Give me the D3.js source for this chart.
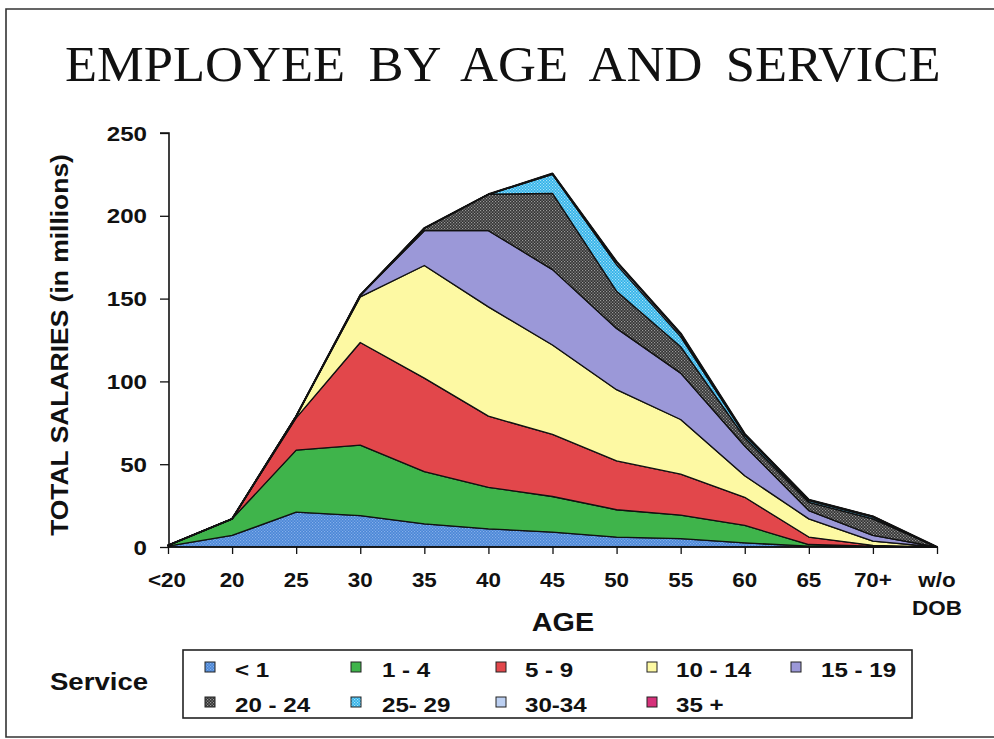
<!DOCTYPE html>
<html>
<head>
<meta charset="utf-8">
<script src="https://cdn.jsdelivr.net/npm/d3@7/dist/d3.min.js"></script>
<style>
  html, body { margin: 0; padding: 0; background: #ffffff; }
  svg { display: block; }
</style>
</head>
<body>
<svg id="chart" width="994" height="739"></svg>
<script>
// ---------------- DATA ----------------
const ages = ["<20", "20", "25", "30", "35", "40", "45", "50", "55", "60", "65", "70+", "w/o DOB"];
const services = ["< 1", "1 - 4", "5 - 9", "10 - 14", "15 - 19", "20 - 24", "25- 29", "30-34", "35 +"];
const svcLt1   = [0.5, 7, 21, 19, 14, 11, 9, 6, 5, 2.5, 0.5, 0, 0];
const svc1to4  = [0.5, 10, 37.5, 42.5, 31.5, 25, 21.5, 16.5, 14.3, 10.5, 1, 0.5, 0];
const svc5to9  = [0, 0, 19.5, 62, 56.5, 43, 37.5, 29.5, 24.7, 17, 4.5, 0.5, 0];
const svc10to14 = [0, 0, 1, 27.5, 68, 66, 54, 43, 33, 13, 11, 2.5, 0];
const svc15to19 = [0, 0, 0, 1, 21, 46, 45.5, 37, 28, 18, 5, 3.5, 0];
const svc20to24 = [0, 0, 0, 0, 1.5, 22, 46, 22.5, 16, 5, 5, 10, 0];
const svc25to29 = [0, 0, 0, 0, 0, 0, 11.5, 16, 6, 1.5, 1, 1, 0];
const svc30to34 = [0, 0, 0, 0, 0, 0, 0.5, 1.5, 1.5, 0.5, 0.5, 0.5, 0];
const svc35plus = [0, 0, 0, 0, 0, 0, 0, 0.3, 0.5, 0.3, 0, 0, 0];
const yTicks = [0, 50, 100, 150, 200, 250];
const title = "EMPLOYEE BY AGE AND SERVICE";
const yTitle = "TOTAL SALARIES (in millions)";
const xTitle = "AGE";
const legendTitle = "Service";

const seriesValues = [svcLt1, svc1to4, svc5to9, svc10to14, svc15to19, svc20to24, svc25to29, svc30to34, svc35plus];

// ---------------- STYLE ----------------
const fills = ["url(#patBlue)", "#3fb44b", "#e2474b", "#fdf9a3", "#9b98d8", "url(#patGray)", "url(#patCyan)", "#bcd0f2", "#d6317a"];
const SX = 1.15; // horizontal stretch of the scanned lettering
const sans = "'Liberation Sans', Arial, sans-serif";

const svg = d3.select("#chart");
const defs = svg.append("defs");
function dotPattern(id, bg, dot) {
  const p = defs.append("pattern").attr("id", id).attr("width", 3).attr("height", 3)
    .attr("patternUnits", "userSpaceOnUse");
  p.append("rect").attr("width", 3).attr("height", 3).attr("fill", bg);
  p.append("rect").attr("x", 0).attr("y", 0).attr("width", 1.2).attr("height", 1.2).attr("fill", dot);
  p.append("rect").attr("x", 1.5).attr("y", 1.5).attr("width", 1.2).attr("height", 1.2).attr("fill", dot);
}
dotPattern("patBlue", "#4a86d6", "#86b0ea");
dotPattern("patGray", "#333333", "#999999");
dotPattern("patCyan", "#2fb2e8", "#a9e2fa");

function txt(x, y, s, size, opts = {}) {
  const t = svg.append("text")
    .attr("transform", `translate(${x},${y}) ${opts.rotate ? "rotate(" + opts.rotate + ")" : ""} scale(${opts.sx || SX},1)`)
    .attr("text-anchor", opts.anchor || "middle")
    .attr("font-family", opts.family || sans)
    .attr("font-weight", opts.weight || "bold")
    .attr("font-size", size)
    .attr("fill", "#111")
    .text(s);
  return t;
}

// ---------------- FRAME ----------------
svg.append("path").attr("d", "M994,9 L6,9 L6,737 L994,737").attr("fill", "none")
  .attr("stroke", "#333").attr("stroke-width", 1.6);

// ---------------- TITLE ----------------
svg.append("text").attr("transform", "translate(65,81) scale(1.03,1)")
  .attr("font-family", "'Liberation Serif', 'Times New Roman', serif")
  .attr("font-size", 51).attr("fill", "#111")
  .attr("word-spacing", 10)
  .text(title);

// ---------------- SCALES ----------------
const x = d3.scalePoint().domain(ages).range([168, 937]);
const y = d3.scaleLinear().domain([0, 250]).range([547, 133]);

const table = ages.map((a, i) => {
  const row = { age: a };
  services.forEach((s, j) => row[s] = seriesValues[j][i]);
  return row;
});
const stack = d3.stack().keys(services);
const layers = stack(table);

const area = d3.area()
  .x(d => x(d.data.age))
  .y0(d => y(d[0]))
  .y1(d => y(d[1]));

svg.append("g").selectAll("path").data(layers).join("path")
  .attr("d", area)
  .attr("fill", (d, i) => fills[i])
  .attr("stroke", "#111")
  .attr("stroke-width", 1.3)
  .attr("stroke-linejoin", "round");

// outer outline
const topLine = d3.line().x(d => x(d.data.age)).y(d => y(d[1]));
svg.append("path").attr("d", topLine(layers[layers.length - 1]))
  .attr("fill", "none").attr("stroke", "#111").attr("stroke-width", 2).attr("stroke-linejoin", "round");

// ---------------- AXES ----------------
const yAxis = d3.axisLeft(y).tickValues(yTicks).tickSize(9).tickFormat("");
const gy = svg.append("g").attr("transform", "translate(169,0)").call(yAxis);
gy.select(".domain").attr("stroke", "#111").attr("stroke-width", 1.6).attr("d", `M-9,${y(250)}H0V${y(0)}`);
gy.selectAll(".tick line").attr("stroke", "#111").attr("stroke-width", 1.3);
yTicks.forEach(v => txt(147, y(v) + 7.5, String(v), 21, { anchor: "end" }));

const xAxis = d3.axisBottom(x).tickSize(7).tickFormat("");
const gx = svg.append("g").attr("transform", `translate(0,${y(0)})`).call(xAxis);
gx.select(".domain").attr("stroke", "#111").attr("stroke-width", 1.6).attr("d", `M${x(ages[0])},0H${x(ages[ages.length-1])}`);
gx.selectAll(".tick line").attr("stroke", "#111").attr("stroke-width", 1.3);
ages.forEach(a => {
  const parts = a.split(" ");
  parts.forEach((p, k) => txt(x(a) + (a === "<20" ? -1 : 0), 587 + k * 27.5, p, 19.5));
});

txt(563, 631, xTitle, 25);
txt(68, 345, yTitle, 23, { rotate: -90, sx: SX });

// ---------------- LEGEND ----------------
txt(99, 690, legendTitle, 24);
svg.append("rect").attr("x", 183).attr("y", 650).attr("width", 729).attr("height", 68)
  .attr("fill", "#fff").attr("stroke", "#222").attr("stroke-width", 1.6);
const swX = [205, 351, 496, 647, 791];
const txX = [235, 382, 525, 676, 821];
const rowY = [677, 712];
services.forEach((s, i) => {
  const r = Math.floor(i / 5), c = i % 5;
  svg.append("rect").attr("x", swX[c]).attr("y", rowY[r] - 15).attr("width", 10).attr("height", 10)
    .attr("fill", fills[i]).attr("stroke", "#222").attr("stroke-width", 1);
  txt(txX[c], rowY[r], s, 21, { anchor: "start" });
});
</script>
</body>
</html>
